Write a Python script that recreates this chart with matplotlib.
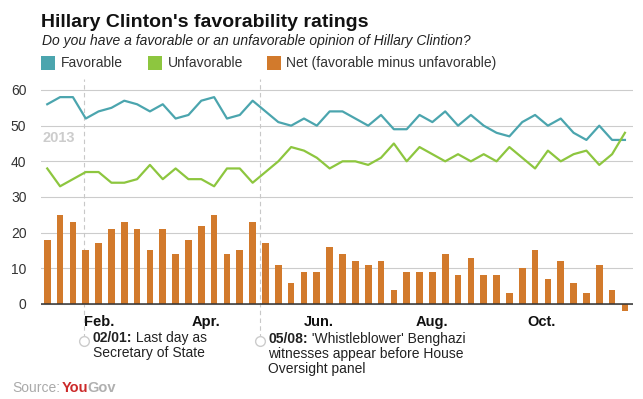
import pandas as pd
import matplotlib
matplotlib.use("Agg")
import matplotlib.pyplot as plt
import matplotlib.dates as mdates
from matplotlib.patches import Rectangle

plt.rcParams["font.family"] = ["Liberation Sans", "DejaVu Sans"]

# weekly YouGov polls, 2013
first_week = "2013-01-12"
favorable = [56, 58, 58, 52, 54, 55, 57, 56, 54, 56, 52, 53, 57, 58, 52, 53, 57, 54, 51, 50, 52, 50, 54,
             54, 52, 50, 53, 49, 49, 53, 51, 54, 50, 53, 50, 48, 47, 51, 53, 50, 52, 48, 46, 50, 46, 46]
unfavorable = [38, 33, 35, 37, 37, 34, 34, 35, 39, 35, 38, 35, 35, 33, 38, 38, 34, 37, 40, 44, 43, 41, 38,
               40, 40, 39, 41, 45, 40, 44, 42, 40, 42, 40, 42, 40, 44, 41, 38, 43, 40, 42, 43, 39, 42, 48]
net = [18, 25, 23, 15, 17, 21, 23, 21, 15, 21, 14, 18, 22, 25, 14, 15, 23, 17, 11, 6, 9, 9, 16,
       14, 12, 11, 12, 4, 9, 9, 9, 14, 8, 13, 8, 8, 3, 10, 15, 7, 12, 6, 3, 11, 4, -2]
yticks = [0, 10, 20, 30, 40, 50, 60]
month_ticks = ["2013-02-01", "2013-04-01", "2013-06-01", "2013-08-01", "2013-10-01"]
month_labels = ["Feb.", "Apr.", "Jun.", "Aug.", "Oct."]
events = ["2013-02-01", "2013-05-08"]

TEAL = "#4ba5ae"
GREEN = "#8dc63f"
ORANGE = "#d27a2c"

W, H = 643, 399


def px(x, y):
    return x / W, 1 - y / H


weeks = pd.date_range(first_week, periods=len(net), freq="7D")
xnum = mdates.date2num(weeks)

fig = plt.figure(figsize=(W / 100, H / 100), dpi=100)
ax = fig.add_axes([41 / W, 1 - 312.9 / H, 592 / W, 233.6 / H])

ax.bar(weeks, net, width=3.65, color=ORANGE, zorder=2)
ax.plot(weeks, favorable, color=TEAL, lw=1.6, zorder=3)
ax.plot(weeks, unfavorable, color=GREEN, lw=1.6, zorder=3)
ax.axhline(0, color="#333333", lw=1.1, zorder=4)

ax.set_xlim(xnum[0] - 3.4, xnum[-1] + 4.4)
ax.set_ylim(-2.5, 63)
ax.set_yticks(yticks)
ax.yaxis.grid(True, color="#cccccc", lw=0.8)
ax.set_axisbelow(True)
for s in ax.spines.values():
    s.set_visible(False)
ax.tick_params(axis="y", length=0, pad=10.5, labelsize=10, labelcolor="#333333")
ax.set_xticks(mdates.date2num(pd.to_datetime(month_ticks)))
ax.set_xticklabels(month_labels, fontweight="bold", fontsize=10.5, color="#111111")
ax.tick_params(axis="x", length=0, pad=1.5)
for lbl in ax.get_xticklabels():
    lbl.set_ha("left")

ax.text(0.002, 46.5, "2013", transform=ax.get_yaxis_transform(), fontsize=10.5,
        fontweight="bold", color="#cccccc", va="center", ha="left")

# event markers
for ev in events:
    d = mdates.date2num(pd.Timestamp(ev))
    ax.plot([d, d], [-9.5, 63], color="#c8c8c8", lw=0.8, ls=(0, (4, 3)), clip_on=False, zorder=1)
    ax.plot([d], [-10.4], marker="o", ms=7, mfc="white", mec="#cccccc", mew=1.0, clip_on=False)


def rich_line(x, y, bold, rest):
    t = fig.text(*px(x, y), bold, fontsize=10, fontweight="bold", color="#222222", va="center")
    fig.canvas.draw()
    ax.annotate(rest, xy=(1, 0.5), xycoords=t, va="center", ha="left", fontsize=10,
                color="#222222", annotation_clip=False)


rich_line(92.7, 338, "02/01:", " Last day as")
fig.text(*px(92.7, 352.5), "Secretary of State", fontsize=10, color="#222222", va="center")
rich_line(268.3, 339.3, "05/08:", " 'Whistleblower' Benghazi")
fig.text(*px(268.3, 354), "witnesses appear before House", fontsize=10, color="#222222", va="center")
fig.text(*px(268.3, 369), "Oversight panel", fontsize=10, color="#222222", va="center")

# header
fig.text(*px(41, 26.7), "Hillary Clinton's favorability ratings", fontsize=14, fontweight="bold",
         color="#111111", va="baseline")
fig.text(*px(42.5, 45.5), "Do you have a favorable or an unfavorable opinion of Hillary Clintion?",
         fontsize=10, style="italic", color="#222222", va="baseline")
legend_items = [("Favorable", TEAL, 41), ("Unfavorable", GREEN, 148), ("Net (favorable minus unfavorable)", ORANGE, 267)]
for name, col, x0 in legend_items:
    fig.add_artist(Rectangle(px(x0, 69.5), 14 / W, 13.5 / H, transform=fig.transFigure,
                             facecolor=col, edgecolor="none"))
    fig.text(*px(x0 + 19.5, 67), name, fontsize=10, color="#333333", va="baseline")

# source
src = fig.text(*px(12, 388), "Source:", fontsize=10, color="#aaaaaa", va="center")
fig.canvas.draw()
you = ax.annotate("You", xy=(1, 0.5), xycoords=src, xytext=(1, 0), textcoords="offset points",
                  va="center", ha="left", fontsize=10.5, fontweight="bold", color="#cc2a2a",
                  annotation_clip=False)
fig.canvas.draw()
ax.annotate("Gov", xy=(1, 0.5), xycoords=you, xytext=(-0.5, 0), textcoords="offset points",
            va="center", ha="left", fontsize=10.5, fontweight="bold", color="#b0b0b0",
            annotation_clip=False)

fig.savefig("out.png", dpi=100)
